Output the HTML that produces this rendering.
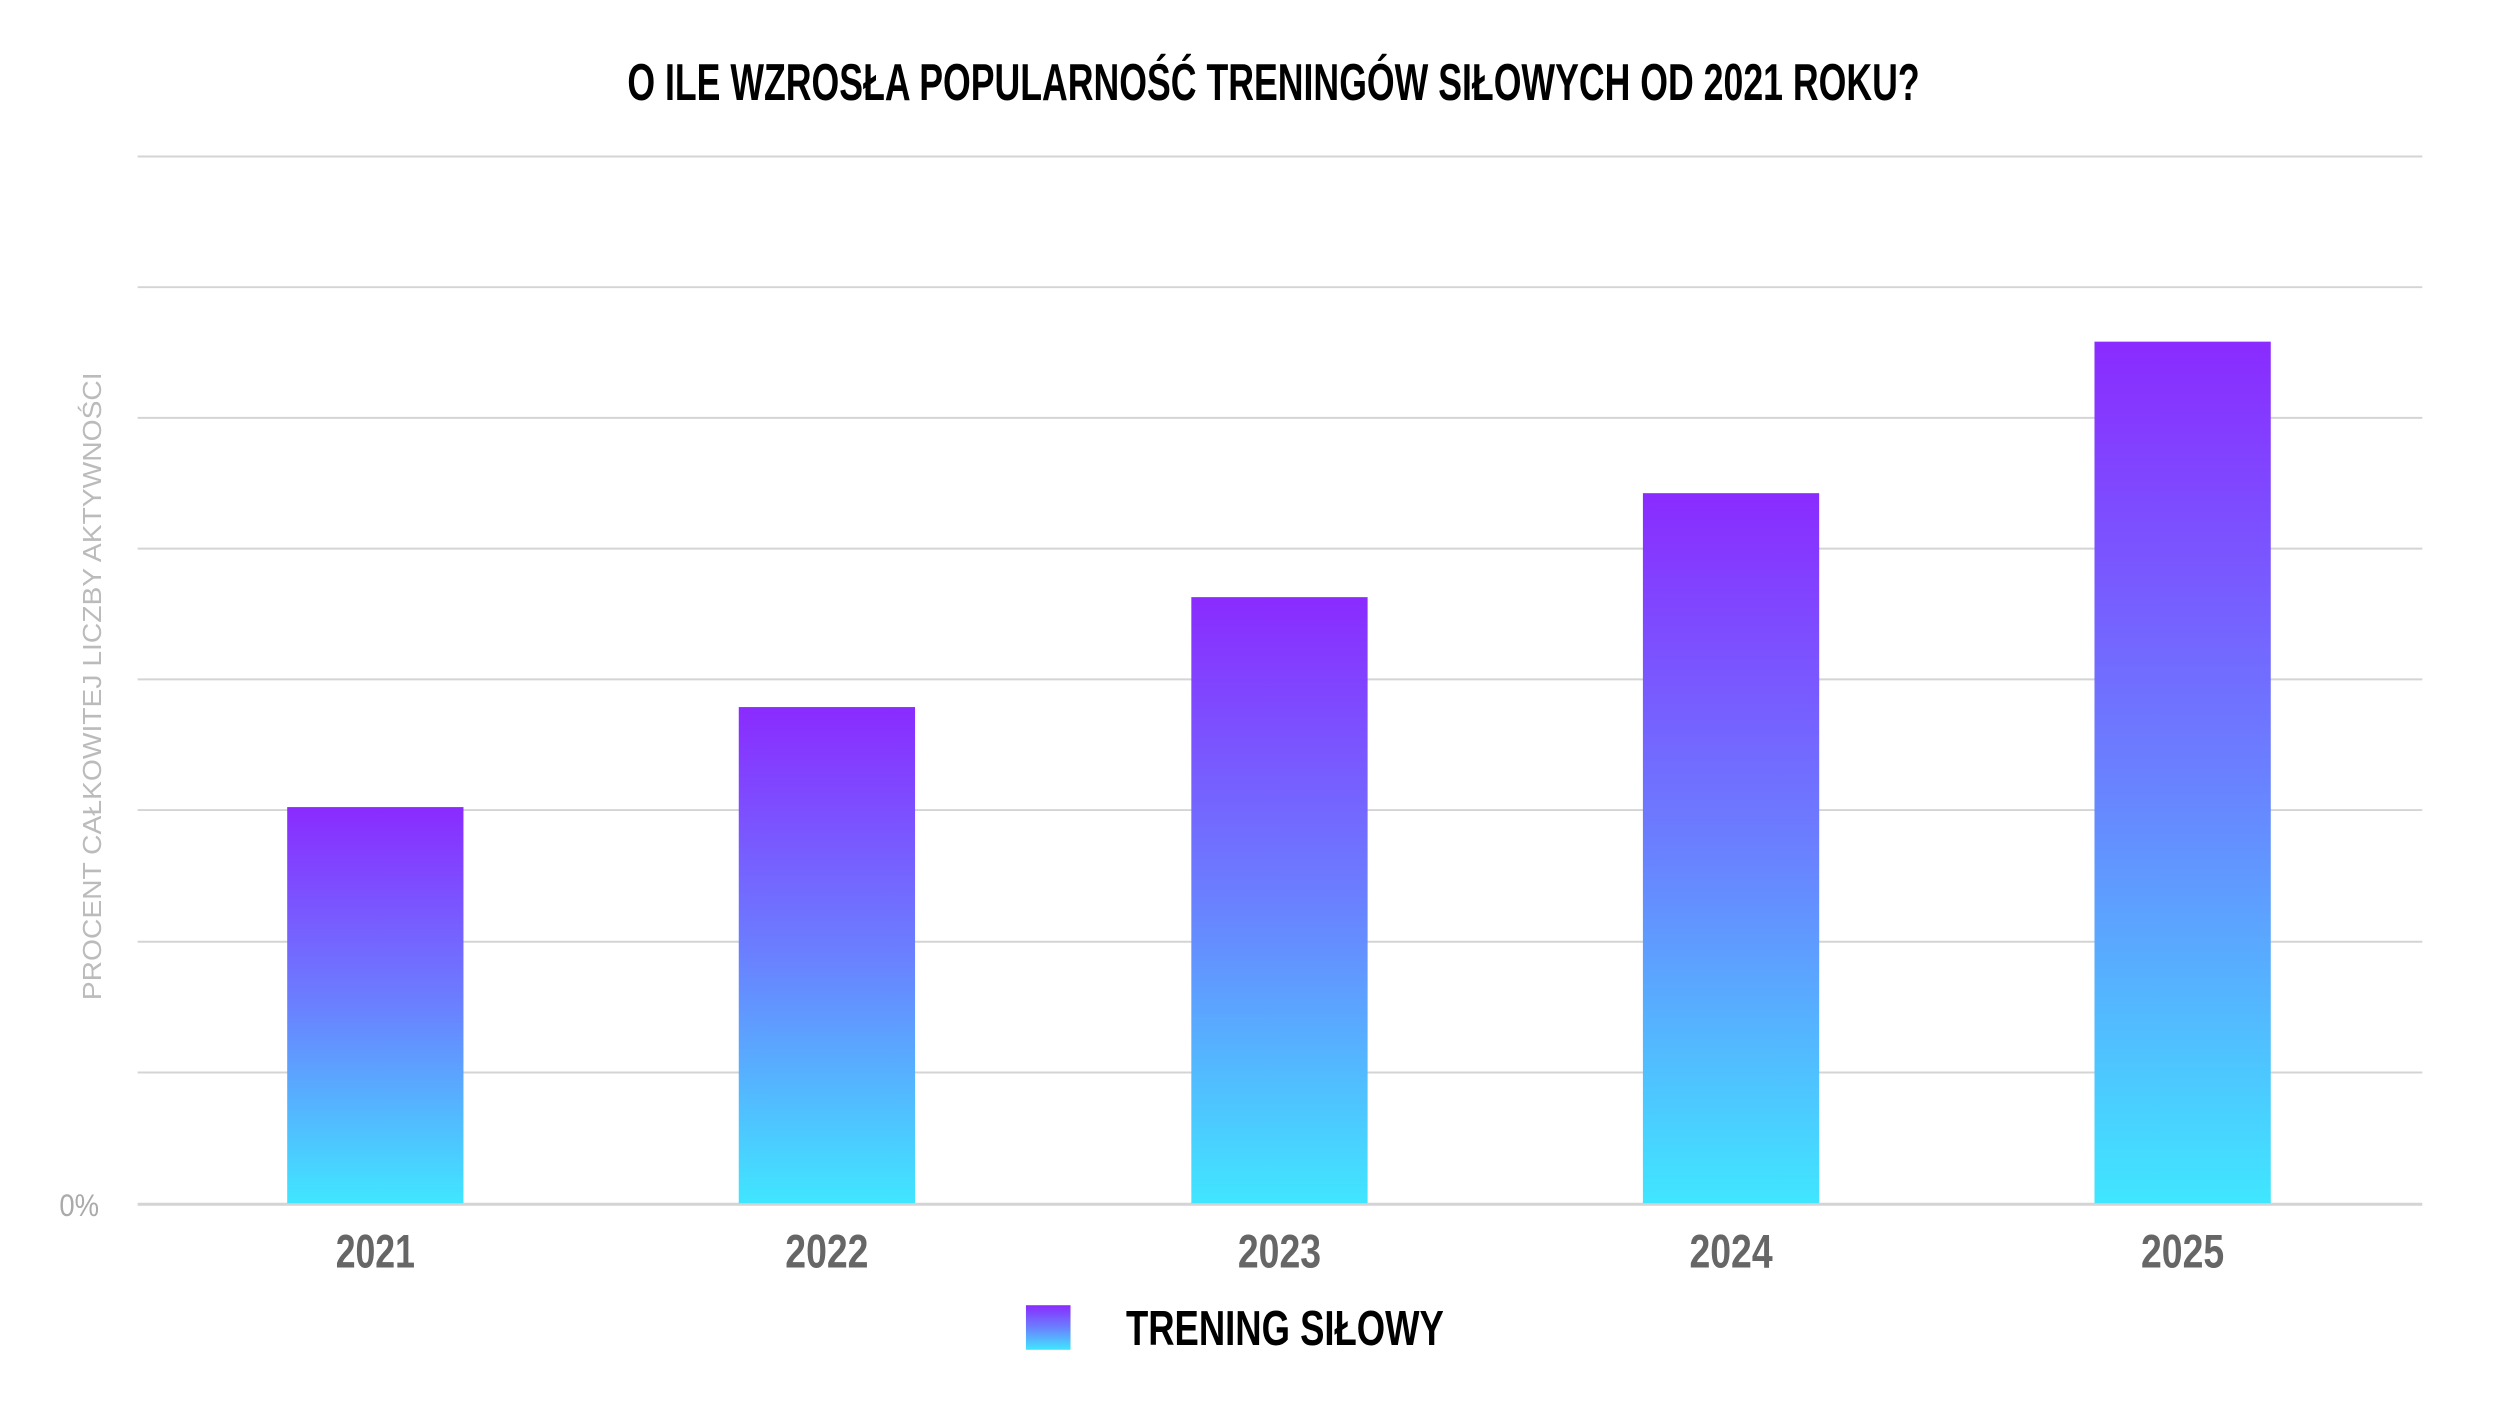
<!DOCTYPE html>
<html><head><meta charset="utf-8"><style>
html,body{margin:0;padding:0;background:#fff;}
svg{display:block;}
text{font-family:"Liberation Sans Narrow","Liberation Sans",sans-serif;}
</style></head><body>
<svg width="2501" height="1417" viewBox="0 0 2501 1417" xmlns="http://www.w3.org/2000/svg">
<defs>
<linearGradient id="g" x1="0" y1="0" x2="0" y2="1">
<stop offset="0" stop-color="#8a2bff"/>
<stop offset="0.5" stop-color="#6a80ff"/>
<stop offset="1" stop-color="#40e6ff"/>
</linearGradient>
</defs>
<g transform="scale(0.9903)">
<text x="1286" y="101" text-anchor="middle" font-size="52" font-weight="bold" fill="#000" textLength="1305" lengthAdjust="spacingAndGlyphs">O ILE WZROSŁA POPULARNOŚĆ TRENINGÓW SIŁOWYCH OD 2021 ROKU?</text>
<g stroke="#d4d4d4" stroke-width="2">
<line x1="139" x2="2446" y1="158" y2="158"/>
<line x1="139" x2="2446" y1="290" y2="290"/>
<line x1="139" x2="2446" y1="422" y2="422"/>
<line x1="139" x2="2446" y1="554" y2="554"/>
<line x1="139" x2="2446" y1="686" y2="686"/>
<line x1="139" x2="2446" y1="818" y2="818"/>
<line x1="139" x2="2446" y1="951" y2="951"/>
<line x1="139" x2="2446" y1="1083" y2="1083"/>
<line x1="139" x2="2446" y1="1216" y2="1216" stroke-width="3"/>
</g>
<rect x="290" y="815" width="178" height="400" fill="url(#g)"/>
<rect x="746" y="714" width="178" height="501" fill="url(#g)"/>
<rect x="1203" y="603" width="178" height="612" fill="url(#g)"/>
<rect x="1659" y="498" width="178" height="717" fill="url(#g)"/>
<rect x="2115" y="345" width="178" height="870" fill="url(#g)"/>
<g font-size="48" font-weight="bold" fill="#666" text-anchor="middle">
<text x="379" y="1280" textLength="80" lengthAdjust="spacingAndGlyphs">2021</text>
<text x="835" y="1280" textLength="84" lengthAdjust="spacingAndGlyphs">2022</text>
<text x="1292" y="1280" textLength="84" lengthAdjust="spacingAndGlyphs">2023</text>
<text x="1748" y="1280" textLength="84" lengthAdjust="spacingAndGlyphs">2024</text>
<text x="2204" y="1280" textLength="84" lengthAdjust="spacingAndGlyphs">2025</text>
</g>
<text x="60" y="1228" font-size="32" fill="#aaa" textLength="40" lengthAdjust="spacingAndGlyphs">0%</text>
<text transform="translate(102,693) rotate(-90)" text-anchor="middle" font-size="26" fill="#bbb" font-family="Liberation Sans, sans-serif" textLength="634" lengthAdjust="spacingAndGlyphs">PROCENT CAŁKOWITEJ LICZBY AKTYWNOŚCI</text>
<rect x="1036" y="1318" width="45" height="45" fill="url(#g)"/>
<text x="1137" y="1358" font-size="50" font-weight="bold" fill="#000" textLength="321" lengthAdjust="spacingAndGlyphs">TRENING SIŁOWY</text>
</g>
</svg>
</body></html>
